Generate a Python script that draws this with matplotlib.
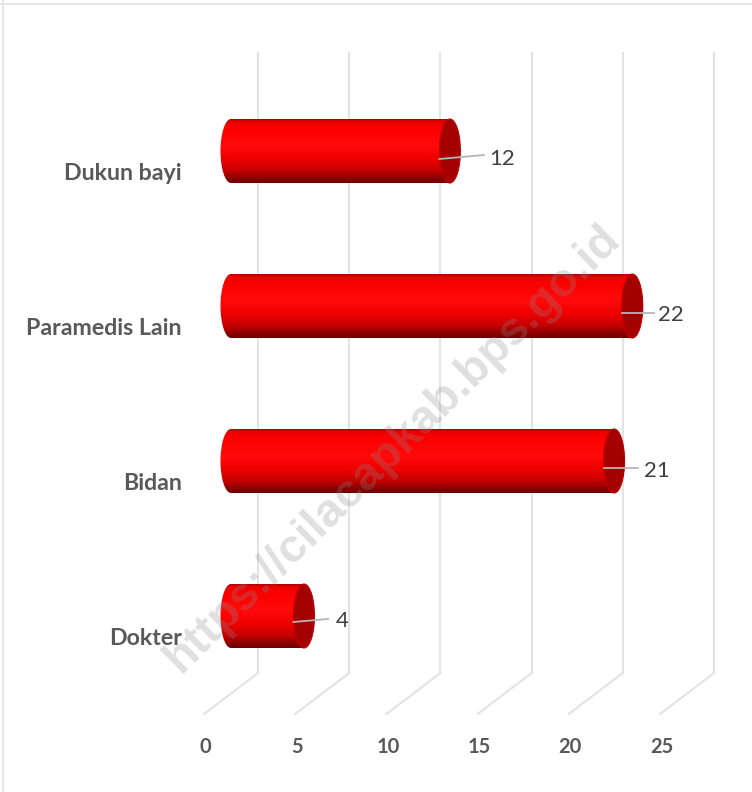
import numpy as np
import matplotlib
matplotlib.use('Agg')
import matplotlib.pyplot as plt
from matplotlib.colors import LinearSegmentedColormap
from matplotlib.patches import Ellipse, PathPatch
from matplotlib.path import Path

categories = ['Dokter', 'Bidan', 'Paramedis Lain', 'Dukun bayi']
values = [4, 21, 22, 12]
ticks = [0, 5, 10, 15, 20, 25]

W, H = 752, 792
px_per_unit = 18.24   # horizontal pixels for one unit of value
px_per_cat = 155.0    # vertical pixels between bars
x0_px = 204.0         # value 0 on the floor front edge
y0_px = 616.0         # centre of first bar

# 3D look, in data units
bar_dx = 27 / px_per_unit
wall_dx = 54 / px_per_unit
bar_h = 32 / px_per_cat
cap_w = 10.5 / px_per_unit
floor_front = (y0_px - 714) / px_per_cat
floor_back = (y0_px - 673) / px_per_cat
wall_top = (y0_px - 53) / px_per_cat

# label placement per bar, pixels from bar end / bar centre
label_dx = [38, 43, 39, 52]
label_dy = [5, 10, 9, 8]
leader_end = [24, 24, 22, 34]
leader_dy = [(6, 3), (7, 7), (7, 7), (8, 4)]

fig = plt.figure(figsize=(W / 100, H / 100), dpi=100)
ax = fig.add_axes([0, 0, 1, 1])
ax.set_xlim(-x0_px / px_per_unit, (W - x0_px) / px_per_unit)
ax.set_ylim((y0_px - H) / px_per_cat, y0_px / px_per_cat)
ax.axis('off')

# chart frame
ax.plot([ax.get_xlim()[0] + 3.5 / px_per_unit] * 2, ax.get_ylim(), color='#e2e2e2', lw=1.2)
ax.plot(ax.get_xlim(), [(y0_px - 3.5) / px_per_cat] * 2, color='#e2e2e2', lw=1.2)

# gridlines on wall and floor
for t in ticks:
    ax.plot([t + wall_dx] * 2, [floor_back, wall_top], color='#e3e3e3', lw=1.5, zorder=1)
    ax.plot([t, t + wall_dx], [floor_front, floor_back], color='#e3e3e3', lw=1.5, zorder=1)
    ax.text(t + 1.5 / px_per_unit, (y0_px - 747) / px_per_cat, str(t), ha='center', va='center',
            fontsize=14.5, fontweight='bold', color='#595959', family='Lato')

grad = LinearSegmentedColormap.from_list('cyl', [
    (0.0, '#a80000'), (0.03, '#e60000'), (0.12, '#fa0000'), (0.42, '#ff0a0a'),
    (0.62, '#f00000'), (0.8, '#c80000'), (0.93, '#8a0000'), (1.0, '#6e0000')])
shade = np.linspace(0, 1, 200).reshape(-1, 1)

for i, (name, v) in enumerate(zip(categories, values)):
    left = bar_dx
    right = v + bar_dx
    k = 0.5523
    cw, bh = cap_w, bar_h
    # cylinder outline, both ends elliptical
    verts = [(left, i + bh), (right, i + bh),
             (right + k * cw, i + bh), (right + cw, i + k * bh), (right + cw, i),
             (right + cw, i - k * bh), (right + k * cw, i - bh), (right, i - bh),
             (left, i - bh),
             (left - k * cw, i - bh), (left - cw, i - k * bh), (left - cw, i),
             (left - cw, i + k * bh), (left - k * cw, i + bh), (left, i + bh)]
    codes = [Path.MOVETO, Path.LINETO, Path.CURVE4, Path.CURVE4, Path.CURVE4,
             Path.CURVE4, Path.CURVE4, Path.CURVE4, Path.LINETO,
             Path.CURVE4, Path.CURVE4, Path.CURVE4, Path.CURVE4, Path.CURVE4, Path.CURVE4]
    outline = PathPatch(Path(verts, codes), fc='none', ec='none', transform=ax.transData)
    ax.add_patch(outline)
    im = ax.imshow(shade, cmap=grad, aspect='auto', zorder=3,
                   extent=[left - cw, right + cw, i - bh, i + bh], vmin=0, vmax=1)
    im.set_clip_path(outline)
    ax.add_patch(Ellipse((right, i), 2 * cw, 2 * bh, fc='#a50000', ec='#c40000', lw=0.8, zorder=4))

    # leader line and value label
    d0, d1 = leader_dy[i]
    ax.plot([right - cw, right + leader_end[i] / px_per_unit],
            [i - d0 / px_per_cat, i - d1 / px_per_cat], color='#b5b5b5', lw=1.3, zorder=5)
    ax.text(right + label_dx[i] / px_per_unit, i - label_dy[i] / px_per_cat, str(v),
            ha='center', va='center', fontsize=16, color='#404040', family='Lato', zorder=6)

    ax.text(-22 / px_per_unit, i - 29 / px_per_cat, name, ha='right', va='baseline',
            fontsize=16.7, fontweight='bold', color='#595959', family='Lato', zorder=2)

# watermark
ax.text((393 - x0_px) / px_per_unit, (y0_px - 449) / px_per_cat, 'https://cilacapkab.bps.go.id',
        rotation=44.5, rotation_mode='anchor', ha='center', va='center',
        fontsize=33.8, fontweight='bold', family='Liberation Sans',
        color='#8c8c8c', alpha=0.27, zorder=7)

fig.savefig('out.png', dpi=100)
